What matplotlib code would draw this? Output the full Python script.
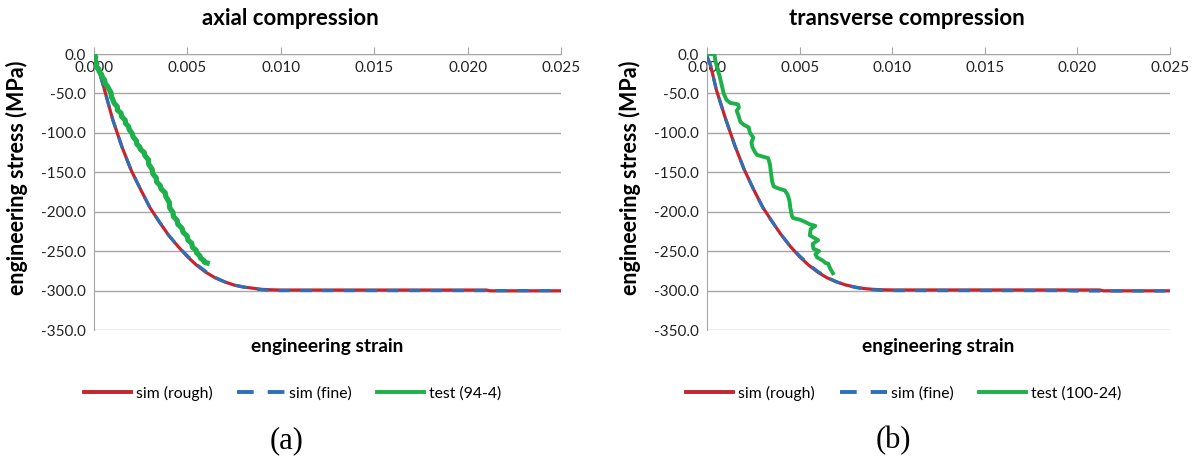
import numpy as np
import matplotlib.pyplot as plt
from matplotlib.lines import Line2D

plt.rcParams['font.family'] = ['Lato', 'DejaVu Sans']
plt.rcParams['axes.unicode_minus'] = False

# ---- data ----
# (a) axial compression
a_rough_x = [0, 0.0005, 0.001, 0.0015, 0.002, 0.0025, 0.003, 0.0035, 0.004, 0.0045, 0.005,
             0.0055, 0.006, 0.0065, 0.007, 0.0075, 0.008, 0.0085, 0.009, 0.0095, 0.010,
             0.021, 0.0212, 0.025]
a_rough_y = [0, -40, -83, -118, -148, -172, -195, -213, -230, -244, -257,
             -268, -277, -284, -289, -293, -295.5, -297, -298.5, -299, -299.3,
             -299.3, -300.3, -300.3]
a_fine_x = [0, 0.0005, 0.001, 0.0015, 0.002, 0.0025, 0.003, 0.0035, 0.004, 0.0045, 0.005,
            0.0055, 0.006, 0.0065, 0.007, 0.0075, 0.008, 0.0085, 0.009, 0.0095, 0.010, 0.025]
a_fine_y = [0, -40, -83, -118, -148, -172, -195, -213, -230, -244, -256,
            -267, -276, -283.5, -289, -293, -295.5, -297.5, -299, -299.8, -300, -300]
a_test_x = [0.00000, 0.00009, 0.00002, 0.00015, 0.00008, 0.00026, 0.00027, 0.00041, 0.00043,
            0.00057, 0.00059, 0.00072, 0.00081, 0.00091, 0.00093, 0.00101, 0.00107, 0.00125,
            0.00125, 0.00145, 0.00147, 0.00167, 0.00169, 0.00185, 0.00189, 0.00205, 0.00209,
            0.00227, 0.00229, 0.00245, 0.00249, 0.00269, 0.00273, 0.00291, 0.00293, 0.00311,
            0.00315, 0.00333, 0.00335, 0.00355, 0.00359, 0.00381, 0.00385, 0.00403, 0.00405,
            0.00423, 0.00425, 0.00445, 0.00449, 0.00471, 0.00477, 0.00499, 0.00503, 0.00523,
            0.00527, 0.00547, 0.00549, 0.00567, 0.00571, 0.00589, 0.00591, 0.00606]
a_test_y = [0, -4, -8, -12, -16, -19, -22, -26, -29,
            -33, -37, -41, -45, -49, -54, -58, -62, -67,
            -71, -75, -79, -84, -88, -92, -96, -101, -105,
            -110, -114, -118, -121, -125, -129, -134, -140, -146,
            -152, -157, -162, -167, -171, -176, -181, -188, -195,
            -201, -206, -211, -216, -221, -226, -231, -236, -240,
            -245, -249, -252, -256, -259, -262, -264, -265]

# (b) transverse compression
b_rough_x = [0, 0.0002, 0.0005, 0.001, 0.0015, 0.002, 0.0025, 0.003, 0.0035, 0.004, 0.0045,
             0.005, 0.0055, 0.006, 0.0065, 0.007, 0.0075, 0.008, 0.0085, 0.009, 0.0095,
             0.010, 0.0212, 0.0214, 0.025]
b_rough_y = [-3, -15, -45, -82, -116, -146, -171, -194, -212, -229, -244,
             -257, -268, -277, -284, -289, -293, -295.5, -297.5, -298.5, -299,
             -299.2, -299.2, -300.3, -300.3]
b_fine_x = [0, 0.0002, 0.0005, 0.001, 0.0015, 0.002, 0.0025, 0.003, 0.0035, 0.004, 0.0045,
            0.005, 0.0055, 0.006, 0.0065, 0.007, 0.0075, 0.008, 0.0085, 0.009, 0.0095,
            0.010, 0.0195, 0.0197, 0.025]
b_fine_y = [-3, -15, -45, -82, -116, -146, -171, -194, -212, -229, -244,
            -256, -267, -276, -283.5, -289, -293, -296, -298, -299, -299.8,
            -300, -300, -300.5, -300.5]
b_test_x = [0.00000, 0.00008, 0.00040, 0.00045, 0.00055, 0.00068, 0.00080, 0.00090, 0.00105,
            0.00125, 0.00150, 0.00168, 0.00172, 0.00160, 0.00170, 0.00180, 0.00200, 0.00225,
            0.00232, 0.00250, 0.00240, 0.00245, 0.00258, 0.00270, 0.00300, 0.00330, 0.00340,
            0.00345, 0.00352, 0.00360, 0.00380, 0.00420, 0.00435, 0.00445, 0.00450, 0.00458,
            0.00465, 0.00500, 0.00530, 0.00555, 0.00585, 0.00560, 0.00555, 0.00600, 0.00570,
            0.00575, 0.00605, 0.00585, 0.00595, 0.00625, 0.00640, 0.00655, 0.00665, 0.00680]
b_test_y = [0, 0, 0, -8, -18, -28, -40, -50, -58,
            -62, -63, -64, -68, -72, -78, -86, -90, -93,
            -100, -106, -112, -118, -124, -128, -130, -132, -140,
            -150, -162, -168, -170, -173, -178, -186, -195, -205,
            -208, -210, -213, -216, -218, -222, -230, -236, -241,
            -247, -250, -254, -258, -262, -265, -266, -272, -278]

panels = [
    ('axial compression', '(a)', 'test (94-4)',
     a_rough_x, a_rough_y, a_fine_x, a_fine_y, a_test_x, a_test_y),
    ('transverse compression', '(b)', 'test (100-24)',
     b_rough_x, b_rough_y, b_fine_x, b_fine_y, b_test_x, b_test_y),
]

red = '#C4262E'
blue = '#2E70B8'
green = '#1DB04B'
grid = '#A6A6A6'

fig = plt.figure(figsize=(11.98, 4.57), dpi=100)
ax_pos = [[94 / 1198, 127 / 457, 467 / 1198, 276 / 457],
          [707 / 1198, 127 / 457, 463 / 1198, 276 / 457]]
title_x = [290 / 1198, 907 / 1198]
cap_x = [287 / 1198, 893 / 1198]

for i, (title, cap, test_lbl, rx, ry, fx, fy, tx, ty) in enumerate(panels):
    ax = fig.add_axes(ax_pos[i])
    ax.plot(rx, ry, color=red, lw=2.3, solid_capstyle='butt', zorder=3)
    ax.plot(fx, fy, color=blue, lw=2.3, dashes=(3.6, 3.2), zorder=4)
    ax.plot(tx, ty, color=green, lw=3.8 if i == 0 else 2.8, zorder=5)

    ax.set_xlim(0, 0.025)
    ax.set_ylim(-350, 0)
    ax.set_xticks(np.arange(0, 0.0251, 0.005))
    ax.set_yticks(np.arange(-350, 1, 50))
    ax.xaxis.set_major_formatter(plt.FormatStrFormatter('%.3f'))
    ax.yaxis.set_major_formatter(plt.FormatStrFormatter('%.1f'))
    ax.grid(axis='y', color=grid, lw=1)
    ax.set_axisbelow(True)
    for s in ['top', 'right']:
        ax.spines[s].set_visible(False)
    ax.spines['bottom'].set_position(('data', 0))
    ax.spines['bottom'].set_color(grid)
    ax.spines['left'].set_color(grid)
    ax.tick_params(axis='x', direction='in', length=5, color=grid, pad=5,
                   labelsize=11, labelcolor='#222222')
    ax.tick_params(axis='y', length=0, pad=6, labelsize=11, labelcolor='#222222')

    ax.set_ylabel('engineering stress (MPa)', fontsize=15.5, fontweight='bold')
    ax.yaxis.set_label_coords(-66 / (ax_pos[i][2] * 1198), 0.55)
    ax.set_xlabel('engineering strain', fontsize=13.8, fontweight='bold')
    ax.xaxis.set_label_coords(0.5, -0.03)

    fig.text(title_x[i], 0.96, title, ha='center', va='center',
             fontsize=16, fontweight='bold')
    fig.text(cap_x[i], 0.035, cap, ha='center', va='center',
             fontsize=22, family=['Liberation Serif'])

    handles = [Line2D([], [], color=red, lw=2.8),
               Line2D([], [], color=blue, lw=2.8, dashes=(4.3, 3.6)),
               Line2D([], [], color=green, lw=2.8)]
    fig.legend(handles, ['sim (rough)', 'sim (fine)', test_lbl],
               loc='center', ncol=3, frameon=False, fontsize=11.3,
               bbox_to_anchor=(ax_pos[i][0] + ax_pos[i][2] * 0.425, 0.14),
               handlelength=3.0, columnspacing=1.6, handletextpad=0.3)

fig.savefig('out.png', dpi=100)
